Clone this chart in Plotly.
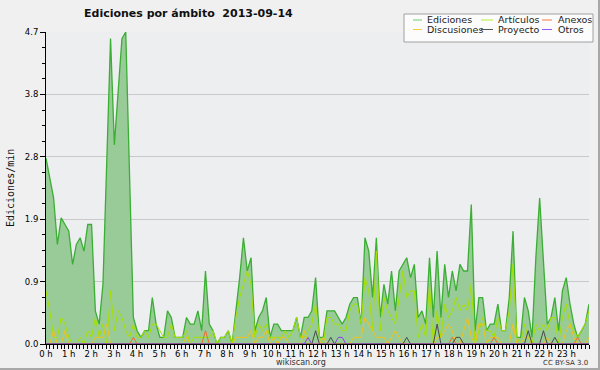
import plotly.graph_objects as go

# ---------------- data (10-minute bins, edits per minute) ----------------
hour_labels = [f"{h} h" for h in range(24)]
series_names = ["Ediciones", "Artículos", "Anexos", "Discusiones", "Proyecto", "Otros"]

ediciones = [
    2.8, 2.5, 2.2, 1.5, 1.9, 1.8, 1.7, 1.2, 1.5, 1.6, 1.4, 1.8,
    1.8, 0.5, 0.3, 0.9, 2.9, 4.6, 3.0, 3.8, 4.6, 4.7, 2.4, 0.4,
    0.2, 0.1, 0.2, 0.2, 0.7, 0.3, 0.1, 0.1, 0.5, 0.4, 0.1, 0.1,
    0.1, 0.4, 0.3, 0.3, 0.5, 0.2, 1.1, 0.3, 0.2, 0.0, 0.1, 0.1,
    0.2, 0.0, 0.5, 1.0, 1.6, 1.1, 1.3, 0.2, 0.4, 0.5, 0.7, 0.1,
    0.3, 0.3, 0.2, 0.2, 0.2, 0.2, 0.4, 0.1, 0.4, 0.4, 0.5, 1.0,
    0.1, 0.1, 0.5, 0.5, 0.5, 0.4, 0.3, 0.4, 0.6, 0.7, 0.7, 0.3,
    1.6, 1.4, 0.7, 1.6, 0.4, 0.9, 0.6, 1.1, 0.5, 1.1, 1.2, 1.3,
    1.0, 1.2, 0.4, 0.5, 0.3, 1.3, 0.4, 1.4, 0.4, 1.2, 0.7, 1.1,
    0.8, 1.2, 1.1, 1.1, 2.1, 0.2, 0.7, 0.7, 0.2, 0.3, 0.3, 0.6,
    0.2, 0.2, 0.7, 1.7, 0.1, 0.1, 0.7, 0.5, 0.1, 1.3, 2.2, 1.2,
    0.3, 0.4, 0.7, 0.2, 0.8, 1.0, 0.6, 0.3, 0.1, 0.2, 0.3, 0.6,
]

articulos = [
    0.8, 0.5, 0.1, 0.1, 0.4, 0.3, 0.1, 0.0, 0.0, 0.1, 0.0, 0.2,
    0.1, 0.4, 0.1, 0.3, 0.0, 0.8, 0.2, 0.5, 0.4, 0.2, 0.1, 0.3,
    0.1, 0.1, 0.2, 0.1, 0.3, 0.3, 0.2, 0.1, 0.1, 0.3, 0.1, 0.1,
    0.1, 0.2, 0.0, 0.1, 0.1, 0.1, 0.1, 0.1, 0.2, 0.0, 0.1, 0.1,
    0.2, 0.0, 0.4, 0.7, 0.9, 1.1, 0.9, 0.1, 0.3, 0.2, 0.3, 0.1,
    0.1, 0.1, 0.1, 0.2, 0.1, 0.2, 0.4, 0.1, 0.1, 0.2, 0.3, 0.6,
    0.1, 0.0, 0.4, 0.4, 0.3, 0.3, 0.2, 0.2, 0.5, 0.6, 0.6, 0.3,
    1.0, 0.8, 0.2, 1.4, 0.2, 0.7, 0.5, 0.4, 0.3, 0.7, 1.1, 0.7,
    0.8, 0.8, 0.1, 0.3, 0.1, 0.9, 0.0, 0.5, 0.1, 0.6, 0.4, 0.5,
    0.7, 0.5, 0.6, 0.5, 0.9, 0.0, 0.2, 0.4, 0.2, 0.2, 0.1, 0.4,
    0.2, 0.2, 0.5, 1.2, 0.1, 0.0, 0.3, 0.1, 0.0, 0.3, 0.2, 0.3,
    0.2, 0.4, 0.4, 0.0, 0.4, 0.6, 0.3, 0.2, 0.1, 0.2, 0.3, 0.5,
]

anexos = [
    0, 0, 0, 0, 0, 0, 0, 0, 0, 0, 0, 0,
    0, 0, 0, 0, 0, 0, 0, 0, 0, 0, 0, 0.1,
    0, 0, 0, 0, 0, 0, 0, 0, 0, 0, 0, 0,
    0, 0, 0, 0, 0, 0, 0.2, 0, 0, 0, 0, 0,
    0, 0, 0, 0, 0, 0, 0, 0, 0, 0, 0, 0,
    0, 0, 0, 0, 0, 0, 0, 0, 0, 0, 0, 0,
    0, 0, 0, 0, 0, 0, 0, 0, 0, 0, 0, 0,
    0, 0, 0, 0, 0, 0, 0, 0, 0, 0, 0, 0,
    0, 0, 0, 0, 0, 0, 0, 0, 0, 0, 0, 0.1,
    0, 0, 0, 0, 0, 0, 0, 0, 0, 0, 0.1, 0,
    0, 0, 0, 0, 0, 0, 0, 0, 0, 0, 0, 0,
    0, 0, 0, 0, 0, 0, 0, 0, 0.1, 0, 0, 0,
]

discusiones = [
    0, 0, 0.2, 0, 0, 0.2, 0, 0, 0, 0, 0, 0,
    0, 0.1, 0.1, 0.1, 0.3, 0, 0, 0, 0, 0, 0, 0,
    0, 0, 0, 0, 0, 0, 0, 0, 0, 0, 0, 0,
    0, 0.1, 0, 0, 0, 0, 0, 0, 0, 0, 0, 0,
    0, 0, 0.1, 0.1, 0.1, 0.1, 0.2, 0, 0.1, 0.1, 0.2, 0,
    0.1, 0, 0.1, 0.1, 0, 0, 0, 0, 0.2, 0, 0, 0,
    0, 0.1, 0, 0, 0, 0, 0, 0, 0, 0.1, 0.1, 0.1,
    0.4, 0.3, 0.2, 0.1, 0.1, 0.1, 0, 0.1, 0.2, 0.1, 0, 0,
    0, 0, 0, 0, 0, 0, 0, 0.1, 0.1, 0.2, 0.3, 0.2,
    0, 0, 0.2, 0.4, 0.1, 0, 0.3, 0.3, 0, 0.1, 0.1, 0.1,
    0, 0, 0, 0.3, 0, 0, 0.1, 0.1, 0, 0, 0, 0,
    0.1, 0, 0, 0, 0, 0.2, 0.3, 0.1, 0, 0, 0, 0.1,
]

proyecto = [
    0, 0, 0, 0, 0, 0, 0, 0, 0, 0, 0, 0,
    0, 0, 0, 0, 0, 0, 0, 0, 0, 0, 0, 0,
    0, 0, 0, 0, 0, 0, 0, 0, 0, 0, 0, 0,
    0, 0, 0, 0, 0, 0, 0, 0, 0, 0, 0, 0,
    0, 0, 0, 0, 0, 0, 0, 0, 0, 0, 0, 0,
    0, 0, 0, 0, 0, 0, 0, 0, 0, 0, 0, 0.2,
    0, 0, 0, 0.1, 0, 0, 0, 0, 0, 0, 0, 0,
    0, 0, 0, 0, 0, 0, 0, 0, 0, 0, 0, 0.1,
    0, 0, 0, 0, 0, 0, 0, 0.3, 0, 0, 0, 0,
    0.1, 0.1, 0, 0, 0, 0, 0, 0, 0, 0, 0, 0,
    0, 0, 0, 0, 0, 0, 0, 0.2, 0, 0, 0, 0.2,
    0, 0, 0.1, 0, 0, 0, 0, 0, 0, 0, 0, 0,
]

otros = [
    0, 0, 0, 0, 0, 0, 0, 0, 0, 0, 0, 0,
    0, 0, 0, 0, 0, 0, 0, 0, 0, 0, 0, 0,
    0, 0, 0, 0, 0, 0, 0, 0, 0, 0, 0, 0,
    0, 0, 0, 0, 0, 0, 0, 0, 0, 0, 0, 0,
    0, 0, 0, 0, 0, 0, 0, 0, 0, 0, 0, 0,
    0, 0, 0, 0, 0, 0, 0, 0, 0, 0.1, 0, 0,
    0, 0, 0, 0, 0, 0.1, 0.1, 0, 0, 0, 0, 0,
    0, 0, 0, 0, 0, 0, 0, 0, 0, 0, 0, 0,
    0, 0, 0, 0, 0, 0, 0, 0, 0, 0, 0, 0,
    0, 0, 0, 0, 0, 0, 0, 0, 0, 0, 0, 0,
    0, 0, 0, 0, 0, 0, 0, 0, 0, 0, 0, 0,
    0, 0, 0, 0, 0, 0, 0, 0, 0, 0, 0, 0,
]

# ---------------- geometry helpers ----------------
W, H = 600, 370
ML, MR, MT, MB = 46, 11, 32, 26
PW, PH = W - ML - MR, H - MT - MB


def px(xp):
    return (xp - ML) / PW


def py(yp):
    return (H - MB - yp) / PH


n = len(ediciones)
x = [i * 24 / (n - 1) for i in range(n)]
ymax = max(ediciones)

colors = {
    "Ediciones": "#3bae34",
    "Artículos": "#a6e000",
    "Anexos": "#f36a2a",
    "Discusiones": "#f2c21b",
    "Proyecto": "#4a4a4a",
    "Otros": "#8a3cf0",
}
legend_colors = {
    "Ediciones": "#6ccf6c",
    "Artículos": "#b8ee30",
    "Anexos": "#f47a40",
    "Discusiones": "#f7cc33",
    "Proyecto": "#555555",
    "Otros": "#9a55f5",
}

fig = go.Figure()
fig.add_trace(go.Scatter(
    x=x, y=ediciones, mode="lines", name="Ediciones",
    line=dict(color=colors["Ediciones"], width=1.3),
    fill="tozeroy", fillcolor="rgba(152,203,152,1)",
))
for name, vals in [("Artículos", articulos), ("Discusiones", discusiones),
                   ("Anexos", anexos), ("Proyecto", proyecto), ("Otros", otros)]:
    fig.add_trace(go.Scatter(
        x=x, y=vals, mode="lines", name=name,
        line=dict(color=colors[name], width=1),
    ))

yticks = [ymax * k / 5 for k in range(6)]
fig.update_layout(
    width=W, height=H,
    margin=dict(l=ML, r=MR, t=MT, b=MB),
    paper_bgcolor="#f0f0f0",
    plot_bgcolor="#edeef0",
    showlegend=False,
    hovermode=False,
    font=dict(family="DejaVu Sans", size=9, color="#000000"),
)
fig.update_xaxes(
    range=[0, 24], tickmode="array", tickvals=list(range(24)), ticktext=hour_labels,
    ticks="outside", ticklen=4, tickcolor="#000", tickwidth=1,
    showline=True, linecolor="#000", linewidth=1,
    showgrid=False, zeroline=False,
    tickfont=dict(size=8.5),
    ticklabelstandoff=-2,
    minor=dict(tick0=0, dtick=1 / 6, ticks="outside", ticklen=4, tickcolor="#000", showgrid=False),
)
fig.update_yaxes(
    range=[0, ymax], tickmode="array", tickvals=yticks,
    ticktext=[f"{v:.1f}" for v in yticks],
    ticks="outside", ticklen=5, tickcolor="#000", tickwidth=1,
    showline=True, linecolor="#000", linewidth=1,
    showgrid=True, gridcolor="#c9c9c9", gridwidth=1, zeroline=False,
    tickfont=dict(size=8.5),
    minor=dict(tick0=0, dtick=ymax / 20, ticks="outside", ticklen=3, tickcolor="#000", showgrid=False),
)

shapes = []
annotations = []

# figure border (right / bottom)
shapes.append(dict(type="line", xref="paper", yref="paper", x0=px(599), x1=px(599), y0=py(0), y1=py(370),
                   line=dict(color="#a8a8a8", width=2)))
shapes.append(dict(type="line", xref="paper", yref="paper", x0=px(0), x1=px(600), y0=py(369), y1=py(369),
                   line=dict(color="#a8a8a8", width=2)))

# legend box
shapes.append(dict(type="rect", xref="paper", yref="paper", x0=px(404), x1=px(593), y0=py(14), y1=py(42),
                   fillcolor="#fcfcfc", line=dict(color="#a0a0a0", width=1)))
legend_layout = [
    ("Ediciones", 413, 422, 425, 20),
    ("Artículos", 481, 493, 496, 20),
    ("Anexos", 542, 552, 556, 20),
    ("Discusiones", 413, 422, 425, 29.5),
    ("Proyecto", 481, 493, 496, 29.5),
    ("Otros", 542, 552, 556, 29.5),
]
for name, lx0, lx1, tx, ty in legend_layout:
    shapes.append(dict(type="line", xref="paper", yref="paper", x0=px(lx0), x1=px(lx1), y0=py(ty), y1=py(ty),
                       line=dict(color=legend_colors[name], width=1)))
    annotations.append(dict(text=name, xref="paper", yref="paper", x=px(tx), y=py(ty),
                            xanchor="left", yanchor="middle", showarrow=False,
                            font=dict(size=9.5, color="#222")))

# title
annotations.append(dict(text="<b>Ediciones por ámbito  2013-09-14</b>", xref="paper", yref="paper",
                        x=px(188), y=py(13.5), xanchor="center", yanchor="middle", showarrow=False,
                        font=dict(size=11, color="#111")))
# y axis title
annotations.append(dict(text="Ediciones/min", xref="paper", yref="paper", x=px(10), y=py(188),
                        xanchor="center", yanchor="middle", showarrow=False, textangle=-90,
                        font=dict(family="DejaVu Sans Mono", size=10, color="#111")))
# footer
annotations.append(dict(text="wikiscan.org", xref="paper", yref="paper", x=px(301), y=py(362),
                        xanchor="center", yanchor="middle", showarrow=False, font=dict(size=8, color="#333")))
annotations.append(dict(text="CC BY-SA 3.0", xref="paper", yref="paper", x=px(590), y=py(363),
                        xanchor="right", yanchor="middle", showarrow=False, font=dict(size=7, color="#333")))

fig.update_layout(shapes=shapes, annotations=annotations)
fig.write_html("out.html", config={"displayModeBar": False, "staticPlot": True},
               post_script="document.body.style.margin='0';document.body.style.overflow='hidden';")
